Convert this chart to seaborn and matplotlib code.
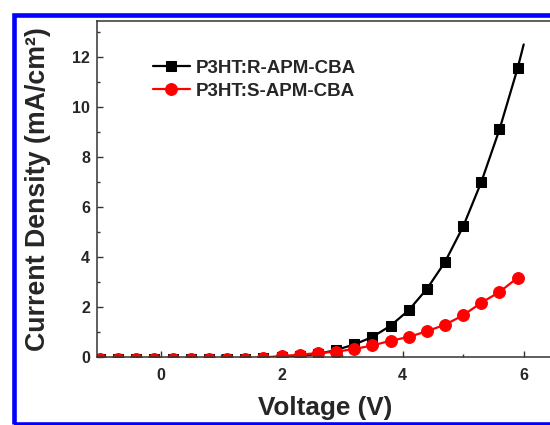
import matplotlib
matplotlib.use("Agg")
import matplotlib.pyplot as plt
from matplotlib.patches import Rectangle
from matplotlib.ticker import MultipleLocator
import seaborn as sns

# data
voltage = [-1.0, -0.7, -0.4, -0.1, 0.2, 0.5, 0.8, 1.1, 1.4, 1.7, 2.0, 2.3,
           2.6, 2.9, 3.2, 3.5, 3.8, 4.1, 4.4, 4.7, 5.0, 5.3, 5.6, 5.9]
j_r = [-0.08, -0.08, -0.08, -0.08, -0.08, -0.08, -0.08, -0.08, -0.06, -0.03,
       0.0, 0.05, 0.12, 0.28, 0.5, 0.8, 1.25, 1.87, 2.72, 3.8, 5.22, 7.0, 9.1, 11.55]
j_s = [-0.08, -0.08, -0.08, -0.08, -0.08, -0.08, -0.08, -0.08, -0.06, -0.02,
       0.04, 0.09, 0.16, 0.21, 0.32, 0.46, 0.65, 0.8, 1.03, 1.29, 1.67, 2.17, 2.6, 3.17]
# black curve keeps going a little past the last marker
r_end_v = 6.0
r_end_j = 12.5

labels = ["P3HT:R-APM-CBA", "P3HT:S-APM-CBA"]

sns.set_theme(style="ticks")
plt.rcParams["font.family"] = ["Liberation Sans", "DejaVu Sans"]
plt.rcParams["font.weight"] = "bold"

fig = plt.figure(figsize=(5.5, 4.25), dpi=100)
ax = fig.add_axes([97 / 550, 68 / 425, 463 / 550, 336.3 / 425])

sns.lineplot(x=voltage + [r_end_v], y=j_r + [r_end_j], ax=ax, color="black",
             lw=1.6, marker="s", ms=7, mec="black", markevery=list(range(len(voltage))),
             label=labels[0], sort=False, estimator=None)
sns.lineplot(x=voltage, y=j_s, ax=ax, color="#ff0000", lw=1.6, marker="o",
             ms=8.5, mec="#ff0000", label=labels[1], sort=False, estimator=None)

ax.set_xlim(-1.05, 6.6)
ax.set_ylim(0, 13.45)
ax.xaxis.set_major_locator(MultipleLocator(2))
ax.xaxis.set_minor_locator(MultipleLocator(1))
ax.yaxis.set_major_locator(MultipleLocator(2))
ax.yaxis.set_minor_locator(MultipleLocator(1))
ax.tick_params(which="both", direction="in", width=1.0, color="#333333",
               labelsize=11.5)
ax.tick_params(which="major", length=4)
ax.tick_params(which="minor", length=2.5)
ax.tick_params(axis="y", pad=5)
ax.tick_params(axis="x", pad=8)
for s in ax.spines.values():
    s.set_linewidth(1.1)
    s.set_color("#333333")

ax.set_xlabel("Voltage (V)", fontsize=18.8, fontweight="bold")
ax.set_ylabel("Current Density (mA/cm²)", fontsize=19.3, fontweight="bold")
ax.xaxis.set_label_coords(0.4935, -0.116)
ax.yaxis.set_label_coords(-0.1, 0.5)

ax.legend(loc="upper left", bbox_to_anchor=(153 / 550, 1 - 59.5 / 425),
          bbox_transform=fig.transFigure, frameon=False, fontsize=13.5,
          handlelength=1.97, handletextpad=0.3, labelspacing=0.32, borderpad=0,
          borderaxespad=0)

# blue frame round the picture
fig.add_artist(Rectangle((13.5 / 550, 1.5 / 425), 1.2, (423.5 - 14.7) / 425,
                         transform=fig.transFigure, fill=False,
                         edgecolor="#0000ff", lw=3.3, clip_on=False))

fig.savefig("out.png", dpi=100)
